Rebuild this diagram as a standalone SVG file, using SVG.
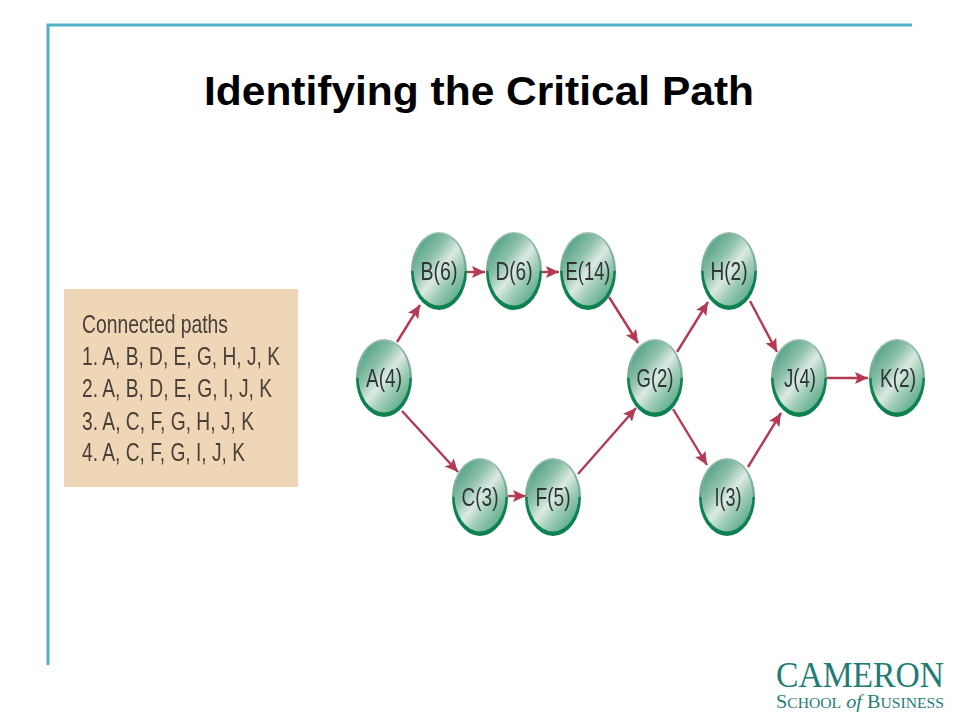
<svg xmlns="http://www.w3.org/2000/svg" xmlns:xlink="http://www.w3.org/1999/xlink" width="960" height="720" viewBox="0 0 960 720">
<style>
.frame{stroke:#4fb0c6;stroke-width:3;fill:none}
.edge{stroke:#b23a52;stroke-width:2.4;fill:none;marker-end:url(#arrow)}
.lbl{font-family:"Liberation Sans",Arial,sans-serif;font-size:26px;fill:#2f3634;text-anchor:middle}
.path{font-family:"Liberation Sans",Arial,sans-serif;font-size:25px;fill:#4a4038}
.title{font-family:"Liberation Sans",Arial,sans-serif;font-size:41px;font-weight:bold;fill:#000}
.logo{font-family:"Liberation Serif","Times New Roman",serif;fill:#1f7d78}
</style>
<defs>
<marker id="arrow" markerUnits="userSpaceOnUse" markerWidth="15" markerHeight="15" refX="13" refY="6.5" orient="auto">
<path d="M0,0.5 L13,6.5 L0,12.5 L2.5,6.5 Z" fill="#b23a52"/>
</marker>
<linearGradient id="face" x1="0.12" y1="0.08" x2="0.88" y2="0.92">
<stop offset="0" stop-color="#4fa184"/>
<stop offset="0.3" stop-color="#8cc0aa"/>
<stop offset="0.52" stop-color="#dbe9e2"/>
<stop offset="0.72" stop-color="#9ccbb6"/>
<stop offset="1" stop-color="#58aa88"/>
</linearGradient>
<linearGradient id="rim" x1="0" y1="0" x2="0" y2="1">
<stop offset="0" stop-color="#9dbfb0"/>
<stop offset="0.5" stop-color="#6ea78e"/>
<stop offset="0.5" stop-color="#0b8150"/>
<stop offset="1" stop-color="#0b8150"/>
</linearGradient>
<filter id="soft" x="-5%" y="-5%" width="110%" height="110%"><feGaussianBlur stdDeviation="0.5"/></filter>
<g id="ball" filter="url(#soft)">
<ellipse rx="28" ry="39" fill="url(#rim)"/>
<ellipse cy="-1.5" rx="25.5" ry="36" fill="url(#face)"/>
</g>
</defs>
<rect width="960" height="720" fill="#fff"/>
<path class="frame" d="M48,665 V25 H912"/>
<text class="title" x="204" y="105" textLength="550" lengthAdjust="spacingAndGlyphs">Identifying the Critical Path</text>
<g id="paths-panel">
<rect x="64" y="289" width="234" height="198" fill="#efd6b7"/>
<g filter="url(#soft)">
<text class="path" x="82" y="333" textLength="146" lengthAdjust="spacingAndGlyphs">Connected paths</text>
<text class="path" x="82" y="365" textLength="198" lengthAdjust="spacingAndGlyphs">1. A, B, D, E, G, H, J, K</text>
<text class="path" x="82" y="397" textLength="190" lengthAdjust="spacingAndGlyphs">2. A, B, D, E, G, I, J, K</text>
<text class="path" x="82" y="430" textLength="172" lengthAdjust="spacingAndGlyphs">3. A, C, F, G, H, J, K</text>
<text class="path" x="82" y="461" textLength="163" lengthAdjust="spacingAndGlyphs">4. A, C, F, G, I, J, K</text>
</g>
</g>
<g id="connectors">
<line class="edge" x1="397" y1="342" x2="420" y2="305"/>
<line class="edge" x1="467" y1="272" x2="485" y2="272"/>
<line class="edge" x1="541" y1="272" x2="559" y2="272"/>
<line class="edge" x1="609" y1="297" x2="638" y2="343"/>
<line class="edge" x1="402" y1="411" x2="458" y2="472"/>
<line class="edge" x1="508" y1="496" x2="526" y2="496"/>
<line class="edge" x1="578" y1="474" x2="636" y2="408"/>
<line class="edge" x1="677" y1="352" x2="708" y2="302"/>
<line class="edge" x1="750" y1="301" x2="777" y2="352"/>
<line class="edge" x1="673" y1="409" x2="707" y2="465"/>
<line class="edge" x1="748" y1="467" x2="781" y2="413"/>
<line class="edge" x1="827" y1="378" x2="868" y2="378"/>
</g>
<g id="node-A"><use xlink:href="#ball" href="#ball" x="384" y="378"/><text class="lbl" x="384" y="387" textLength="36" lengthAdjust="spacingAndGlyphs" filter="url(#soft)">A(4)</text></g>
<g id="node-B"><use xlink:href="#ball" href="#ball" x="439" y="271"/><text class="lbl" x="439" y="280" textLength="37" lengthAdjust="spacingAndGlyphs" filter="url(#soft)">B(6)</text></g>
<g id="node-D"><use xlink:href="#ball" href="#ball" x="514" y="271"/><text class="lbl" x="514" y="280" textLength="37" lengthAdjust="spacingAndGlyphs" filter="url(#soft)">D(6)</text></g>
<g id="node-E"><use xlink:href="#ball" href="#ball" x="588" y="271"/><text class="lbl" x="588" y="280" textLength="45" lengthAdjust="spacingAndGlyphs" filter="url(#soft)">E(14)</text></g>
<g id="node-H"><use xlink:href="#ball" href="#ball" x="729" y="271"/><text class="lbl" x="729" y="280" textLength="37" lengthAdjust="spacingAndGlyphs" filter="url(#soft)">H(2)</text></g>
<g id="node-G"><use xlink:href="#ball" href="#ball" x="655" y="378"/><text class="lbl" x="655" y="387" textLength="37" lengthAdjust="spacingAndGlyphs" filter="url(#soft)">G(2)</text></g>
<g id="node-J"><use xlink:href="#ball" href="#ball" x="799" y="378"/><text class="lbl" x="800" y="387" textLength="32" lengthAdjust="spacingAndGlyphs" filter="url(#soft)">J(4)</text></g>
<g id="node-K"><use xlink:href="#ball" href="#ball" x="897" y="378"/><text class="lbl" x="898" y="387" textLength="36" lengthAdjust="spacingAndGlyphs" filter="url(#soft)">K(2)</text></g>
<g id="node-C"><use xlink:href="#ball" href="#ball" x="480" y="497"/><text class="lbl" x="480" y="506" textLength="37" lengthAdjust="spacingAndGlyphs" filter="url(#soft)">C(3)</text></g>
<g id="node-F"><use xlink:href="#ball" href="#ball" x="553" y="497"/><text class="lbl" x="553" y="506" textLength="35" lengthAdjust="spacingAndGlyphs" filter="url(#soft)">F(5)</text></g>
<g id="node-I"><use xlink:href="#ball" href="#ball" x="727" y="497"/><text class="lbl" x="728" y="506" textLength="27" lengthAdjust="spacingAndGlyphs" filter="url(#soft)">I(3)</text></g>
<g id="logo">
<text class="logo" x="776" y="687" font-size="35" textLength="168" lengthAdjust="spacingAndGlyphs">CAMERON</text>
<text class="logo" x="776" y="708" font-size="18" textLength="168" lengthAdjust="spacingAndGlyphs">S<tspan font-size="14">CHOOL</tspan> <tspan font-style="italic">of</tspan> B<tspan font-size="14">USINESS</tspan></text>
</g>
</svg>
